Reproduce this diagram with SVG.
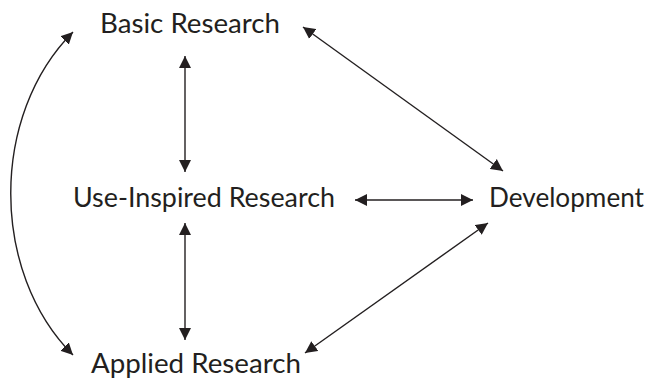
<svg xmlns="http://www.w3.org/2000/svg" width="661" height="381" viewBox="0 0 661 381">
  <style>
    .lbl { font-family: Lato, "Liberation Sans", sans-serif; font-size: 27px; fill: #231f20; }
    .conn { stroke: #231f20; stroke-width: 1.4; fill: none; marker-start: url(#ah); marker-end: url(#ah); }
  </style>
  <defs>
    <marker id="ah" markerUnits="userSpaceOnUse" markerWidth="13" markerHeight="13" refX="12" refY="6" orient="auto-start-reverse" viewBox="0 0 13 12">
      <path d="M0,0 L12,6 L0,12 z" fill="#231f20"/>
    </marker>
  </defs>
  <rect width="661" height="381" fill="#ffffff"/>
  <g id="basic-research"><text class="lbl" x="100" y="33" textLength="180" lengthAdjust="spacingAndGlyphs">Basic Research</text></g>
  <g id="use-inspired-research"><text class="lbl" x="73" y="207" textLength="262" lengthAdjust="spacingAndGlyphs">Use-Inspired Research</text></g>
  <g id="development"><text class="lbl" x="489" y="207" textLength="155" lengthAdjust="spacingAndGlyphs">Development</text></g>
  <g id="applied-research"><text class="lbl" x="91" y="373" textLength="210" lengthAdjust="spacingAndGlyphs">Applied Research</text></g>
  <g id="connectors">
    <line class="conn" x1="185" y1="56" x2="185" y2="172"/>
    <line class="conn" x1="185" y1="223" x2="185" y2="340"/>
    <line class="conn" x1="355" y1="200" x2="473" y2="200"/>
    <line class="conn" x1="303" y1="27" x2="503" y2="171"/>
    <line class="conn" x1="488" y1="223" x2="305" y2="353"/>
    <path class="conn" d="M73,32 C-10,115 -10,272 73,355"/>
  </g>
</svg>
